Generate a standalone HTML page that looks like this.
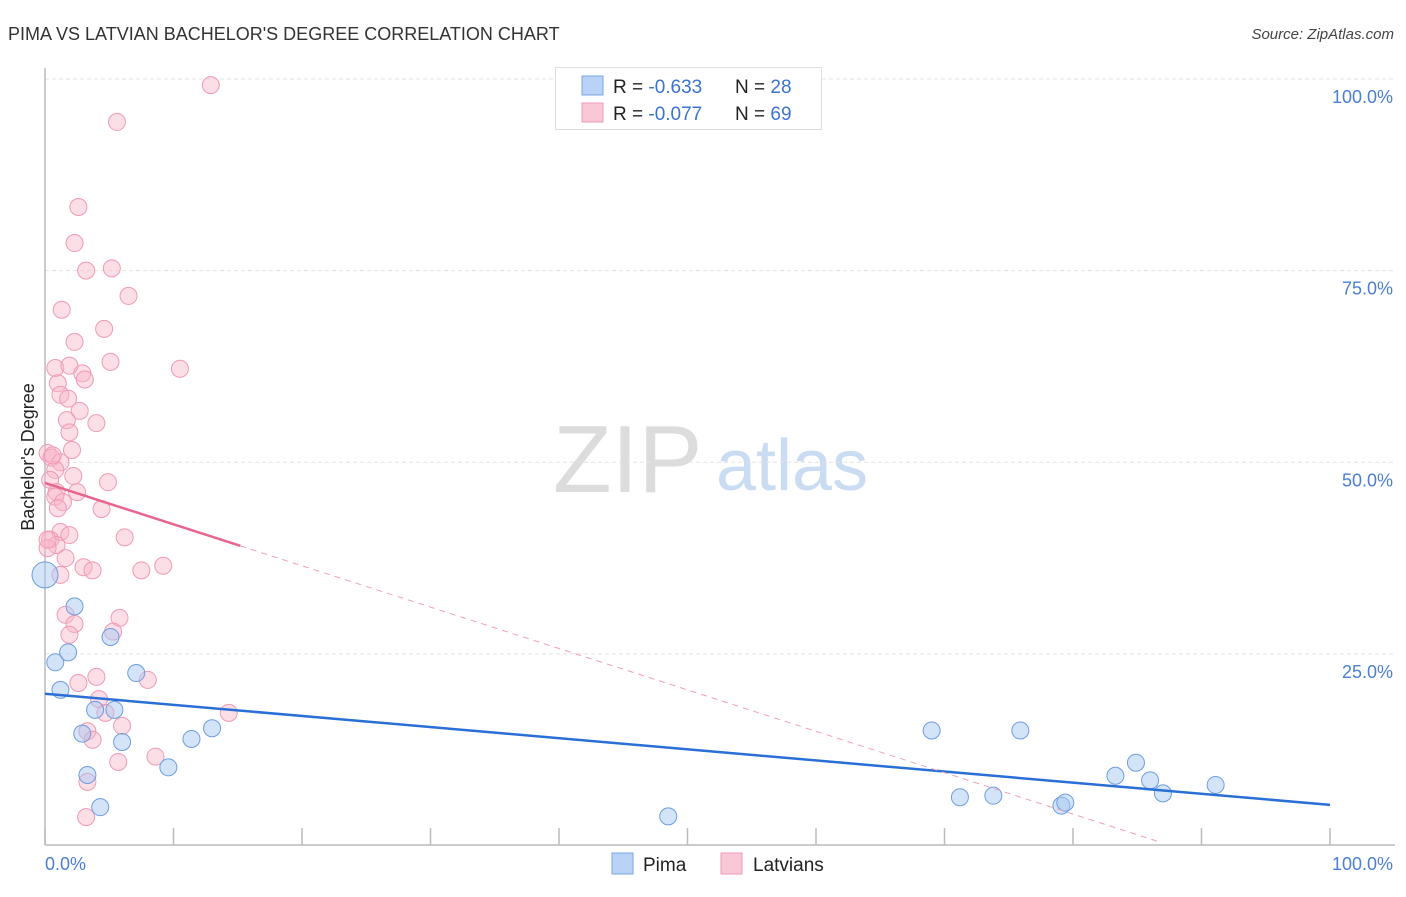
<!DOCTYPE html>
<html><head><meta charset="utf-8"><style>
body{margin:0;background:#fff;font-family:"Liberation Sans",sans-serif;}
svg text{font-family:"Liberation Sans",sans-serif;}
</style></head><body>
<svg id="chart" width="1406" height="892" xmlns="http://www.w3.org/2000/svg">
<text x="8" y="40" font-size="18" fill="#333">PIMA VS LATVIAN BACHELOR'S DEGREE CORRELATION CHART</text>
<text x="1394" y="39" font-size="15" fill="#444" text-anchor="end" font-style="italic">Source: ZipAtlas.com</text>
<g>
<text x="553" y="492" font-size="96" font-family="Liberation Serif,serif" fill="#dcdcdc">ZIP</text>
<text x="716" y="490" font-size="72" fill="#c9dcf2">atlas</text>
</g>
<g id="grid"></g>
<line x1="45" y1="68" x2="45" y2="845" stroke="#bbb" stroke-width="1.5"/>
<line x1="45" y1="845" x2="1395" y2="845" stroke="#bbb" stroke-width="1.5"/>
<g id="ticks"></g>
<text transform="translate(34,457) rotate(-90)" font-size="18" fill="#222" text-anchor="middle">Bachelor's Degree</text>
<text x="45" y="870" font-size="18" fill="#4a7fd4">0.0%</text>
<text x="1393" y="870" font-size="18" fill="#4a7fd4" text-anchor="end">100.0%</text>
<g id="points"></g>
<g id="trends"></g>
<g>
<rect x="555.5" y="67.5" width="266" height="62" fill="#fff" stroke="#ddd"/>
<rect x="582" y="76" width="21" height="19" fill="#b8d3f5" stroke="#7aa6e6"/>
<rect x="582" y="103" width="21" height="19" fill="#f9c8d6" stroke="#f09ab4"/>
<text x="613" y="93" font-size="19" fill="#222">R = <tspan fill="#3b73d0">-0.633</tspan><tspan x="735">N = </tspan><tspan fill="#3b73d0">28</tspan></text>
<text x="613" y="120" font-size="19" fill="#222">R = <tspan fill="#3b73d0">-0.077</tspan><tspan x="735">N = </tspan><tspan fill="#3b73d0">69</tspan></text>
</g>
<g>
<rect x="612" y="853" width="21" height="21" fill="#b8d3f5" stroke="#7aa6e6"/>
<text x="643" y="871" font-size="19" fill="#222">Pima</text>
<rect x="721" y="853" width="21" height="21" fill="#f9c8d6" stroke="#f09ab4"/>
<text x="753" y="871" font-size="19" fill="#222">Latvians</text>
</g>
</svg>
<script>
const yTicks=[25,50,75,100];
const yTickLabels=["25.0%","50.0%","75.0%","100.0%"];
const xTicks=[0,10,20,30,40,50,60,70,80,90,100];
const pimaX=[0,2.3,0.8,1.8,5.1,1.2,7.1,2.9,3.9,5.4,6.0,3.3,4.3,9.6,11.4,13.0,48.5,69.0,75.9,71.2,73.8,79.1,79.4,83.3,84.9,86.0,87.0,91.1];
const pimaY=[35.3,31.2,23.9,25.2,27.2,20.3,22.5,14.6,17.7,17.7,13.5,9.2,5.0,10.2,13.9,15.3,3.8,15.0,15.0,6.3,6.5,5.2,5.6,9.1,10.8,8.5,6.8,7.9];
const latX=[12.9,5.6,2.6,2.3,3.2,5.2,6.5,1.3,4.6,2.3,5.1,10.5,0.8,1.9,2.9,3.1,1.0,1.2,1.8,2.7,1.7,4.0,1.9,2.1,0.2,0.5,1.2,0.8,2.2,4.9,0.4,0.9,2.5,0.8,1.4,4.4,1.0,1.2,1.9,6.2,0.4,0.9,0.2,1.6,3.0,3.7,7.5,9.2,1.2,1.6,2.3,5.8,1.9,5.3,2.6,4.0,8.0,4.2,4.7,3.3,6.0,14.3,3.7,5.7,8.6,3.3,3.2,0.2,0.6];
const latY=[99.2,94.4,83.3,78.6,75.0,75.3,71.7,69.9,67.4,65.7,63.1,62.2,62.3,62.6,61.6,60.8,60.3,58.8,58.3,56.7,55.5,55.1,53.9,51.6,51.2,50.6,50.0,49.0,48.2,47.4,47.7,46.1,46.1,45.5,44.8,43.9,44.0,40.9,40.5,40.2,39.9,39.2,38.8,37.5,36.3,35.9,35.9,36.5,35.3,30.1,28.9,29.7,27.5,27.9,21.2,22.0,21.6,19.1,17.3,14.9,15.6,17.3,13.8,10.9,11.6,8.3,3.7,39.9,50.9];
const pimaTrend=[19.8,5.3];
const latTrend=[47.3,-0.54];
const NS="http://www.w3.org/2000/svg";
const X0=45,X1=1330,Y0=845.5,Y1=79;
const sx=v=>X0+(X1-X0)*v/100, sy=v=>Y0-(Y0-Y1)*v/100;
function mk(t,a,p){const e=document.createElementNS(NS,t);for(const k in a)e.setAttribute(k,a[k]);document.getElementById(p).appendChild(e);return e;}
yTicks.forEach((v,i)=>{
 const l=mk('line',{x1:45,x2:1395,y1:sy(v),y2:sy(v),stroke:'#e2e2e2','stroke-dasharray':'4,3'},'grid');
 
 
 const t=mk('text',{x:1393,y:sy(v)+24,'font-size':18,fill:'#4a7fd4','text-anchor':'end'},'grid');
 t.textContent=yTickLabels[i];
 
 
});
xTicks.forEach(v=>{
 const l=mk('line',{x1:sx(v),x2:sx(v),y1:828,y2:845,stroke:'#bbb','stroke-width':1.5},'ticks');
 
 
});
latX.forEach((x,i)=>{
 const c=mk('circle',{cx:sx(x),cy:sy(latY[i]),r:8.5,fill:'rgba(248,182,202,0.45)',stroke:'#f09ab4','stroke-width':1},'points');
 
 
});
pimaX.forEach((x,i)=>{
 const c=mk('circle',{cx:sx(x),cy:sy(pimaY[i]),r:i==0?13:8.5,fill:'rgba(168,200,242,0.5)',stroke:'#6d9de2','stroke-width':1},'points');
 
 
});
let e=mk('line',{x1:sx(0),y1:sy(pimaTrend[0]),x2:sx(100),y2:sy(pimaTrend[1]),stroke:'#2a6fd6','stroke-width':2.5},'trends');


const lf=x=>latTrend[0]+latTrend[1]*x;
e=mk('line',{x1:sx(0),y1:sy(lf(0)),x2:sx(15.2),y2:sy(lf(15.2)),stroke:'#e8668e','stroke-width':2.5},'trends');


e=mk('line',{x1:sx(15.2),y1:sy(lf(15.2)),x2:sx(86.8),y2:sy(lf(86.8)),stroke:'#f0a0b8','stroke-width':1,'stroke-dasharray':'6,5'},'trends');


</script>
</body></html>
